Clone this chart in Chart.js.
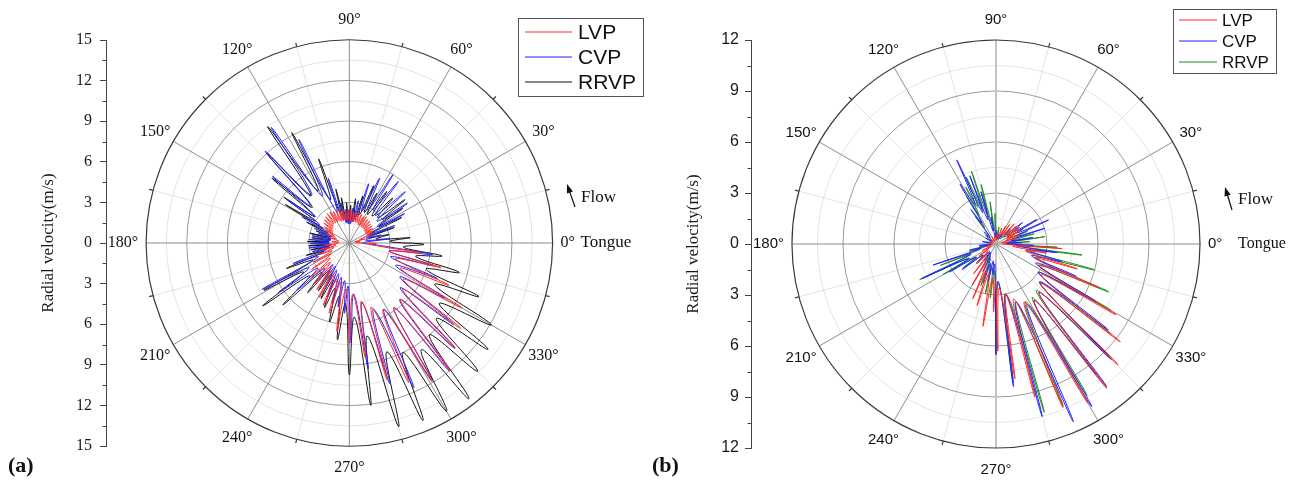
<!DOCTYPE html>
<html>
<head>
<meta charset="utf-8">
<script src="https://cdn.jsdelivr.net/npm/chart.js@4.4.1/dist/chart.umd.min.js"></script>
<style>
  body { margin: 0; background: #fff; width: 1299px; height: 487px; overflow: hidden; position: relative; }
  canvas { position: absolute; top: 0; }
  #chartA { left: 0; }
  #chartB { left: 650px; }
  .tag { position: absolute; top: 452px; font: bold 22px "Liberation Serif", serif; color: #111; }
</style>
</head>
<body>
<canvas id="chartA" width="650" height="487"></canvas>
<canvas id="chartB" width="649" height="487"></canvas>
<div class="tag" style="left:8px">(a)</div>
<div class="tag" style="left:652px">(b)</div>

<script>
// series names and polar grid
const seriesNames = ['LVP', 'CVP', 'RRVP'];
const angleTicksDeg = [0, 30, 60, 90, 120, 150, 180, 210, 240, 270, 300, 330];
const aAxisTicks = [-15, -12, -9, -6, -3, 0, 3, 6, 9, 12, 15];
const bAxisTicks = [-12, -9, -6, -3, 0, 3, 6, 9, 12];

// traces: [angle in degrees, radial velocity in m/s]
// panel (a)
const aLVP = [
  [22,1.9],[24.5,1.4],[27,2.0],[29.5,1.4],[32,2.0],[34.5,1.4],[37,2.1],[39.5,1.4],[42,2.1],[44.5,1.5],
  [47,2.2],[49.5,1.5],[52,2.2],[54.5,1.5],[57,2.3],[59.5,1.5],[62,2.2],[64.5,1.5],[67,2.3],[69.5,1.6],
  [72,2.3],[74.5,1.6],[77,2.4],[79.5,1.6],[82,2.3],[84.5,1.6],[87,2.4],[89.5,1.6],[92,2.5],[94.5,1.7],
  [97,2.4],[99.5,1.7],[102,2.5],[104.5,1.7],[107,2.5],[109.5,1.7],[112,2.6],[114.5,1.8],[117,2.6],[119.5,1.8],
  [122,2.7],[124.5,1.8],[127,2.7],[129.5,1.8],[132,2.6],[134.5,1.7],[137,2.5],[139.5,1.6],[142,2.4],[144.5,1.5],
  [147,2.2],[149.5,1.4],[152,2.0],[155,1.2],[158,1.8],[161.5,1.0],[165,1.5],[170,0.8],[175,1.3],[180,0.8],
  [185,1.8],[189,1.0],[193,2.2],[197,1.2],[201,2.4],[204.5,1.4],[208,3.0],[211.5,1.6],[215,3.4],[218.5,1.8],
  [222,3.8],[225.5,2.0],[229,4.0],[232,2.2],[235,4.2],[238,2.4],[241,4.6],[244,2.6],[247.5,5.0],[251,2.8],
  [254,5.4],[258,3.0],[262,6.6],[266,3.4],[270,7.4],[274,3.8],[278,8.6],[282,4.4],[285.5,10.5],[289,5.0],
  [293,11.2],[297,5.5],[300.8,11.9],[304.5,5.8],[308.3,12.0],[312,5.6],[315.2,11.0],[319,5.2],[322.5,10.35],[326,4.8],
  [330,9.6],[333.5,4.2],[337,8.0],[341,3.6],[345,7.0],[348.5,3.0],[352,5.4],[356,1.5],[359,2.0],[363,0.5],
  [368,0.8],[372,0.4],[375,1.2],[378.5,0.8]
];
const aCVP = [
  [6,3.0],[10,1.2],[14,2.4],[17.5,1.3],[21,3.6],[24.5,1.8],[28,4.6],[31,2.4],[34.5,5.2],[38.5,2.6],
  [42.5,5.6],[47,2.8],[51.5,5.8],[54.5,3.0],[57.5,6.0],[61,2.8],[65,5.3],[68.5,2.5],[72,4.6],[75,2.0],
  [78,3.2],[81,1.6],[84,2.6],[87,1.4],[90,2.4],[93,1.4],[96,2.5],[99,1.5],[102,3.0],[105,1.8],
  [108,5.0],[112,2.5],[116,8.5],[120,4.0],[124,10.3],[128,4.5],[132.5,9.2],[136,4.0],[139,7.5],[142,3.2],
  [145,5.6],[148,2.6],[151,4.0],[154,1.8],[157,2.8],[160,1.4],[163,2.4],[166,1.4],[169,2.8],[172,1.4],
  [175,3.0],[178,1.5],[181,2.9],[184,1.4],[187,3.0],[190,1.5],[193,2.8],[196.5,1.8],[200,4.4],[204,2.5],
  [208,7.3],[211.5,3.5],[215,6.4],[218.5,3.0],[222,5.2],[225.5,2.6],[229,4.0],[232.5,2.0],[236,3.6],[239,2.0],
  [242,3.8],[245,2.2],[248,4.3],[251,2.4],[254,4.6],[257,2.6],[260,4.8],[263,2.8],[266,5.2],[268.5,3.2],
  [271,7.4],[275,3.8],[278.5,9.4],[282,4.5],[286,10.8],[290,5.2],[294,11.7],[297.5,5.5],[301,11.9],[304.5,5.8],
  [308,12.0],[311.5,5.6],[315,11.0],[318.5,5.0],[322,9.8],[326,4.5],[330,8.1],[334,3.8],[338,7.0],[341.5,3.2],
  [345,6.4],[348.5,3.0],[352,6.2],[356,2.0],[360,1.0]
];
const aRRVP = [
  [5,4.5],[8.5,2.0],[12,3.0],[15.5,1.5],[19,3.5],[22.5,1.5],[26,4.3],[29.5,2.5],[33,4.7],[35.5,3.0],
  [38,5.2],[42,2.8],[46,4.6],[50,2.6],[54,4.7],[57.5,2.5],[61,4.2],[64,2.5],[67,4.6],[70.5,2.2],
  [74,3.6],[78,1.8],[82,3.3],[85,1.6],[88,2.8],[91,1.5],[94,3.0],[97,1.6],[100,3.4],[102,2.0],
  [104,4.1],[107,2.2],[110,6.6],[114,3.5],[117.5,9.2],[121,4.5],[125,10.5],[129,4.5],[132.5,9.0],[136,3.8],
  [140,7.45],[142.5,3.2],[145,5.9],[147,3.0],[149,5.5],[151.5,2.2],[154,3.5],[157,1.6],[160,2.6],[163,1.5],
  [166,3.0],[169,1.4],[172,2.8],[175,1.5],[178,3.1],[181,1.5],[184,3.0],[187,1.4],[190,2.9],[193,1.5],
  [196,3.3],[199,2.0],[202,5.0],[205.5,3.0],[209,7.2],[212.5,4.0],[216,7.9],[219.5,3.8],[223,6.7],[226.5,3.0],
  [230,4.8],[233.5,2.5],[237,4.2],[240,2.6],[243,4.6],[246,3.0],[249,5.1],[252.5,3.5],[256,6.0],[259.5,4.0],
  [263,7.2],[266.5,4.5],[270,9.75],[274,5.5],[277.5,12.1],[281,7.0],[285,14.05],[289,8.5],[292.5,14.2],[296,9.0],
  [300,14.35],[304,9.5],[307.5,14.5],[311,9.0],[315,13.4],[319,8.5],[322.5,12.9],[326,8.0],[330,12.1],[334,7.0],
  [337.5,10.35],[341,6.0],[345,8.4],[348.5,5.0],[352,6.9],[355.5,4.0],[359,5.5],[362,3.0]
];

// panel (b)
const bLVP = [
  [10,0.8],[13,0.3],[17,1.3],[20,0.6],[23,1.5],[26,0.7],[29,1.6],[32,0.8],[35,1.7],[38,0.8],
  [41,1.6],[44,0.8],[48,1.6],[51,0.7],[55,1.4],[58,0.6],[62,1.2],[66,0.5],[70,1.0],[75,0.3],
  [82,0.6],[90,0.2],[100,0.5],[110,0.2],[120,0.5],[130,0.2],[140,0.4],[155,0.2],[170,0.4],[183,0.2],
  [195,0.6],[200,0.3],[205,0.9],[210,0.4],[215,1.2],[220,0.6],[225,1.6],[229,0.8],[233,2.2],[236.5,1.0],
  [240,2.8],[243.5,1.3],[247,3.5],[250,1.6],[253,3.8],[257,1.8],[261,4.9],[264.5,2.0],[268,4.0],[269.5,2.2],
  [271,6.3],[274.5,2.6],[278,8.0],[281,3.0],[284.3,9.3],[288,3.4],[292.3,10.4],[296,3.8],[300,10.8],[304,4.0],
  [307.5,10.7],[311.5,3.8],[315.3,10.1],[318.5,3.5],[321.8,9.3],[325.5,3.2],[329.5,8.2],[333,2.8],[337,6.6],[340,2.4],
  [343,5.0],[346.5,1.8],[350,3.0],[353,1.0],[356,3.9],[360,0.4],[365,0.5]
];
const bCVP = [
  [3,1.5],[6.5,0.6],[10,2.2],[14,0.9],[17.8,3.0],[21,1.3],[24.6,3.4],[28,1.4],[31,2.8],[35,1.2],
  [39,2.0],[43,0.8],[48,1.2],[54,0.5],[60,0.8],[68,0.3],[75,0.6],[82,0.3],[90,0.8],[95,0.4],
  [100,1.6],[103,0.8],[106,3.2],[108.5,1.5],[111,4.3],[113,2.0],[115,5.45],[118,2.6],[121,4.1],[123.5,1.5],
  [126,2.5],[130,0.6],[135,1.0],[142,0.3],[150,0.7],[160,0.3],[170,0.8],[178,0.3],[185,1.0],[189,0.5],
  [193,1.6],[196,0.9],[198.5,3.9],[201.5,1.6],[205,4.8],[208,1.8],[211,3.2],[214,1.4],[217,2.5],[221,1.0],
  [225,1.6],[230,0.6],[235,1.2],[240,0.6],[245,1.8],[248.5,0.9],[252,2.4],[255,1.2],[258,2.2],[261,1.0],
  [264,1.8],[267,1.2],[270,6.5],[273.5,2.2],[277,8.45],[281,3.0],[285,10.5],[289,3.6],[293.5,11.4],[297,4.0],
  [300.5,11.1],[304,4.0],[307.8,10.6],[311.5,3.8],[315,9.6],[319,3.4],[322.6,8.3],[326,3.0],[330,6.8],[334,2.6],
  [338,5.1],[341.5,2.2],[345,4.0],[348.5,1.8],[352,3.6],[355,1.2],[358,2.2],[360.5,0.6]
];
const bRRVP = [
  [4,2.0],[6,0.8],[8.5,2.9],[11.5,1.0],[15,2.3],[18.5,1.0],[22,2.0],[25.5,0.9],[29,1.8],[32.5,0.8],
  [36,1.6],[40,0.6],[45,1.2],[52,0.4],[60,0.8],[70,0.3],[80,1.0],[86,0.5],[92,1.8],[95,0.8],
  [98,2.5],[101,1.2],[104,3.6],[106.5,1.8],[108.6,4.5],[111,2.2],[114,4.3],[116,2.4],[118,3.8],[120,2.0],
  [121.8,3.3],[124,1.2],[127,2.0],[132,0.5],[140,0.8],[155,0.3],[170,0.6],[180,0.2],[190,1.0],[193,0.6],
  [196,1.6],[198.5,1.0],[201,3.5],[203,1.6],[205,4.95],[207.5,1.8],[210,3.6],[213,1.4],[216,2.4],[220,1.0],
  [225,1.6],[232,0.6],[240,1.4],[245,0.8],[250,2.6],[254,1.2],[258,3.0],[261,1.4],[264,3.2],[267,1.6],
  [270,6.5],[273.5,2.3],[277,8.2],[281.5,3.0],[286,10.3],[289,3.6],[292.5,10.3],[297,3.8],[301,10.4],[304,3.8],
  [307.5,9.7],[311,3.6],[315,9.4],[318.5,3.4],[322,8.6],[326,3.0],[330,7.8],[333.5,2.8],[337,7.2],[341,2.5],
  [345.3,6.0],[349,2.0],[352.7,5.1],[355,1.5],[357,3.6],[360,0.8]
];

// polar -> cartesian, closing the loop
function toXY(trace) {
  const pts = trace.map(([deg, r]) => ({
    x: r * Math.cos(deg * Math.PI / 180),
    y: r * Math.sin(deg * Math.PI / 180)
  }));
  pts.push(pts[0]);
  return pts;
}

function drawArrow(ctx, x0, y0, x1, y1) {
  const ang = Math.atan2(y1 - y0, x1 - x0);
  ctx.beginPath();
  ctx.moveTo(x0, y0);
  ctx.lineTo(x1 - 6 * Math.cos(ang), y1 - 6 * Math.sin(ang));
  ctx.stroke();
  ctx.beginPath();
  ctx.moveTo(x1, y1);
  ctx.lineTo(x1 - 9 * Math.cos(ang) + 3.2 * Math.sin(ang), y1 - 9 * Math.sin(ang) - 3.2 * Math.cos(ang));
  ctx.lineTo(x1 - 9 * Math.cos(ang) - 3.2 * Math.sin(ang), y1 - 9 * Math.sin(ang) + 3.2 * Math.cos(ang));
  ctx.closePath();
  ctx.fill();
}

// grid rings, spokes, angle labels, legend, flow arrow
const polarDeco = {
  id: 'polarDeco',
  beforeDatasetsDraw(chart, args, o) {
    const ctx = chart.ctx;
    const xs = chart.scales.x, ys = chart.scales.y;
    const cx = xs.getPixelForValue(0), cy = ys.getPixelForValue(0);
    const k = xs.getPixelForValue(1) - cx;
    const R = o.rMax * k;
    ctx.save();
    ctx.lineWidth = 1;
    // minor rings
    ctx.strokeStyle = '#e3e3e3';
    for (let v = o.step / 2; v < o.rMax; v += o.step) {
      ctx.beginPath(); ctx.arc(cx, cy, v * k, 0, Math.PI * 2); ctx.stroke();
    }
    // minor spokes
    for (let a = 15; a < 360; a += 30) {
      const t = a * Math.PI / 180;
      ctx.beginPath(); ctx.moveTo(cx, cy); ctx.lineTo(cx + R * Math.cos(t), cy - R * Math.sin(t)); ctx.stroke();
    }
    // major rings
    ctx.strokeStyle = '#9a9a9a';
    for (let v = o.step; v < o.rMax; v += o.step) {
      ctx.beginPath(); ctx.arc(cx, cy, v * k, 0, Math.PI * 2); ctx.stroke();
    }
    // major spokes
    angleTicksDeg.forEach(a => {
      const t = a * Math.PI / 180;
      ctx.strokeStyle = (o.lightVertical && (a === 90 || a === 270)) ? '#c4c4c4' : '#8c8c8c';
      ctx.lineWidth = (o.lightVertical && (a === 90 || a === 270)) ? 2 : 1;
      ctx.beginPath(); ctx.moveTo(cx, cy); ctx.lineTo(cx + R * Math.cos(t), cy - R * Math.sin(t)); ctx.stroke();
    });
    // outer ring and ticks
    ctx.lineWidth = 1.2;
    ctx.strokeStyle = '#3a3a3a';
    ctx.beginPath(); ctx.arc(cx, cy, R, 0, Math.PI * 2); ctx.stroke();
    for (let a = 15; a < 360; a += 30) {
      const t = a * Math.PI / 180;
      ctx.beginPath();
      ctx.moveTo(cx + R * Math.cos(t), cy - R * Math.sin(t));
      ctx.lineTo(cx + (R + 4) * Math.cos(t), cy - (R + 4) * Math.sin(t));
      ctx.stroke();
    }
    ctx.restore();
  },
  afterDraw(chart, args, o) {
    const ctx = chart.ctx;
    const xs = chart.scales.x, ys = chart.scales.y;
    const cx = xs.getPixelForValue(0), cy = ys.getPixelForValue(0);
    const k = xs.getPixelForValue(1) - cx;
    const R = o.rMax * k;
    ctx.save();
    // minor ticks on the radial axis
    ctx.strokeStyle = '#444';
    ctx.lineWidth = 1;
    const axX = chart.chartArea.left;
    for (let v = -o.rMax + o.step / 2; v < o.rMax; v += o.step) {
      const y = Math.round(ys.getPixelForValue(v)) + 0.5;
      ctx.beginPath(); ctx.moveTo(axX - 3.5, y); ctx.lineTo(axX, y); ctx.stroke();
    }
    // angle labels
    ctx.fillStyle = '#111';
    ctx.font = o.angleFont;
    ctx.textBaseline = 'middle';
    angleTicksDeg.forEach(a => {
      const t = a * Math.PI / 180;
      if (a === 0) {
        ctx.textAlign = 'left';
        ctx.fillText('0°', cx + R + 8, cy);
      } else if (a === 180) {
        ctx.textAlign = 'right';
        ctx.fillText('180°', cx - R - 8, cy);
      } else {
        ctx.textAlign = 'center';
        ctx.fillText(a + '°', cx + (R + o.labelGap) * Math.cos(t), cy - (R + o.labelGap) * Math.sin(t) + 1);
      }
    });
    ctx.textAlign = 'left';
    ctx.font = o.tongueFont;
    ctx.fillText('Tongue', cx + R + o.tongueGap, cy);
    // flow arrow
    ctx.fillStyle = '#111';
    ctx.strokeStyle = '#111';
    ctx.lineWidth = 1.2;
    drawArrow(ctx, o.flow[0], o.flow[1], o.flow[2], o.flow[3]);
    ctx.font = '17px "Liberation Serif"';
    ctx.fillText('Flow', o.flow[4], o.flow[5]);
    // legend
    const [bx, by, bw, bh] = o.legendBox;
    ctx.strokeStyle = '#555';
    ctx.lineWidth = 1;
    ctx.strokeRect(bx + 0.5, by + 0.5, bw, bh);
    ctx.font = o.legendFont;
    chart.data.datasets.forEach((ds, i) => {
      const y = o.legendRows[i];
      ctx.strokeStyle = ds.borderColor;
      ctx.beginPath(); ctx.moveTo(o.legendLine[0], y); ctx.lineTo(o.legendLine[1], y); ctx.stroke();
      ctx.fillStyle = '#111';
      ctx.fillText(ds.label, o.legendText, y + 1);
    });
    ctx.restore();
  }
};

function makePolar(id, p) {
  const datasets = p.series.map((trace, i) => ({
    label: seriesNames[i],
    data: toXY(trace),
    showLine: true,
    borderColor: p.colors[i],
    borderWidth: 1,
    pointRadius: 0,
    tension: 0.42,
    borderJoinStyle: 'round'
  }));
  return new Chart(document.getElementById(id), {
    type: 'scatter',
    data: { datasets },
    options: {
      responsive: false,
      animation: false,
      devicePixelRatio: 1,
      events: [],
      layout: { padding: p.padding },
      plugins: {
        legend: { display: false },
        tooltip: { enabled: false },
        polarDeco: p.deco
      },
      scales: {
        x: { type: 'linear', min: p.xMin, max: p.rMax, display: false },
        y: {
          type: 'linear',
          position: 'left',
          min: -p.rMax,
          max: p.rMax,
          afterBuildTicks: s => { s.ticks = p.axisTicks.map(v => ({ value: v })); },
          afterFit: s => { s.width = p.axisWidth; },
          ticks: {
            callback: v => Math.abs(v),
            font: p.tickFont,
            color: '#1a1a1a',
            padding: p.tickPad
          },
          grid: { drawOnChartArea: false, drawTicks: true, tickLength: 6, color: '#444' },
          border: { display: true, color: '#444', width: 1 },
          title: {
            display: true,
            text: 'Radial velocity(m/s)',
            font: { family: 'Liberation Serif', size: 17 },
            color: '#1a1a1a',
            padding: { top: 2, bottom: 0 }
          }
        }
      }
    },
    plugins: [polarDeco]
  });
}

makePolar('chartA', {
  series: [aLVP, aCVP, aRRVP],
  colors: ['#ff2626', '#2020ff', '#111111'],
  rMax: 15, xMin: -17.96, axisTicks: aAxisTicks, axisWidth: 70,
  padding: { left: 36, top: 40, right: 97.4, bottom: 41 },
  tickFont: { family: 'Liberation Serif', size: 16 }, tickPad: 8,
  deco: {
    rMax: 15, step: 3, lightVertical: false,
    angleFont: '16px "Liberation Serif"', labelGap: 21,
    tongueFont: '17px "Liberation Serif"', tongueGap: 28,
    flow: [575, 207, 567, 184, 581, 198],
    legendBox: [518, 18, 125, 78], legendRows: [32, 57, 82], legendLine: [525, 572], legendText: 578,
    legendFont: '21px "Liberation Sans"'
  }
});

makePolar('chartB', {
  series: [bLVP, bCVP, bRRVP],
  colors: ['#ff2626', '#2020ff', '#1e8a1e'],
  rMax: 12, xMin: -14.41, axisTicks: bAxisTicks, axisWidth: 70,
  padding: { left: 31, top: 40, right: 99, bottom: 39 },
  tickFont: { family: 'Liberation Sans', size: 16 }, tickPad: 6,
  deco: {
    rMax: 12, step: 3, lightVertical: true,
    angleFont: '15px "Liberation Sans"', labelGap: 21,
    tongueFont: '16px "Liberation Serif"', tongueGap: 38,
    flow: [582, 210, 575, 187, 588, 200],
    legendBox: [523, 9, 103, 64], legendRows: [20, 41, 62], legendLine: [529, 567], legendText: 572,
    legendFont: '17px "Liberation Sans"'
  }
});
</script>
</body>
</html>
